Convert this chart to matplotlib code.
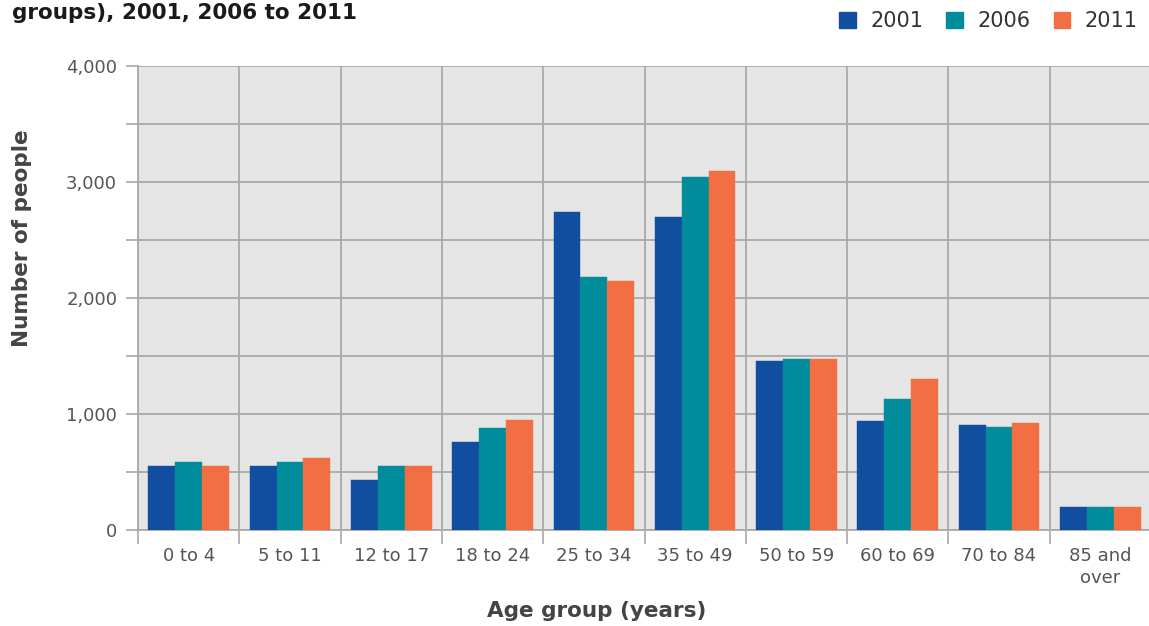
import numpy as np
import matplotlib.pyplot as plt
from matplotlib.ticker import FixedLocator, FuncFormatter
from matplotlib.patches import Patch

plt.rcParams.update({
    "font.family": "DejaVu Sans",
    "font.size": 11,
})

# data
age_groups = ["0 to 4", "5 to 11", "12 to 17", "18 to 24", "25 to 34",
              "35 to 49", "50 to 59", "60 to 69", "70 to 84", "85 and\nover"]
years = ["2001", "2006", "2011"]
v2001 = [555, 555, 434, 762, 2744, 2698, 1457, 936, 902, 195]
v2006 = [590, 590, 555, 882, 2178, 3043, 1471, 1129, 888, 195]
v2011 = [555, 624, 555, 951, 2143, 3095, 1471, 1298, 919, 195]
series = [v2001, v2006, v2011]
colors = ["#124ea0", "#008c9a", "#f26e43"]

W, H = 1149, 626
fig = plt.figure(figsize=(W / 100, H / 100), dpi=100)
ax = fig.add_axes([138 / W, 1 - 530 / H, 1013 / W, (530 - 66) / H])
ax.set_facecolor("#e5e5e5")

x = np.arange(len(age_groups))
bw = 0.265
for i, (vals, c) in enumerate(zip(series, colors)):
    ax.bar(x + (i - 1) * bw, vals, width=bw, color=c, zorder=3,
           edgecolor=c, linewidth=0.3)

ax.set_xlim(-0.5, len(age_groups) - 0.5)
ax.set_ylim(0, 4000)

# y ticks: labelled every 1000, gridline every 500
ax.set_yticks([0, 1000, 2000, 3000, 4000])
ax.yaxis.set_minor_locator(FixedLocator([500, 1500, 2500, 3500]))
ax.yaxis.set_major_formatter(FuncFormatter(lambda v, p: f"{int(v):,}"))

# x: labels at centres, ticks/grid at group boundaries
ax.set_xticks(x)
ax.set_xticklabels(age_groups, linespacing=1.3)
ax.xaxis.set_minor_locator(FixedLocator(np.arange(-0.5, len(age_groups), 1.0)))

gc = "#a9a9a9"
tc = "#555555"
ax.tick_params(axis="x", which="major", length=0, pad=12, labelsize=13, colors=tc)
ax.tick_params(axis="x", which="minor", length=10, width=1.2, color=gc)
ax.tick_params(axis="y", which="both", length=9, width=1.2, color=gc, labelsize=13,
               labelcolor=tc, pad=6)

ax.grid(True, which="both", axis="y", color=gc, linewidth=1.3, zorder=1)
ax.grid(True, which="minor", axis="x", color=gc, linewidth=1.3, zorder=1)
ax.grid(False, which="major", axis="x")
ax.set_axisbelow(True)

for s in ["top", "right"]:
    ax.spines[s].set_visible(False)
for s in ["left", "bottom"]:
    ax.spines[s].set_color(gc)
    ax.spines[s].set_linewidth(1.3)

fig.text(22 / W, 1 - 238 / H, "Number of people", fontsize=15.5, fontweight="bold",
         color="#444444", rotation=90, ha="center", va="center")
fig.text(597 / W, 1 - 611 / H, "Age group (years)", fontsize=15.5, fontweight="bold",
         color="#444444", ha="center", va="center")

fig.text(12 / W, 1 - 13 / H, "groups), 2001, 2006 to 2011", fontsize=15.5,
         fontweight="bold", color="#1a1a1a", ha="left", va="center")

handles = [Patch(facecolor=c, edgecolor=c) for c in colors]
fig.legend(handles, years, loc="center right", bbox_to_anchor=(1 - 11 / W, 1 - 21 / H),
           ncol=3, frameon=False, fontsize=15, handlelength=0.8, handleheight=0.8,
           handletextpad=0.7, columnspacing=1.1, labelcolor="#333333",
           borderaxespad=0, borderpad=0)

fig.savefig("out.png", dpi=100)
